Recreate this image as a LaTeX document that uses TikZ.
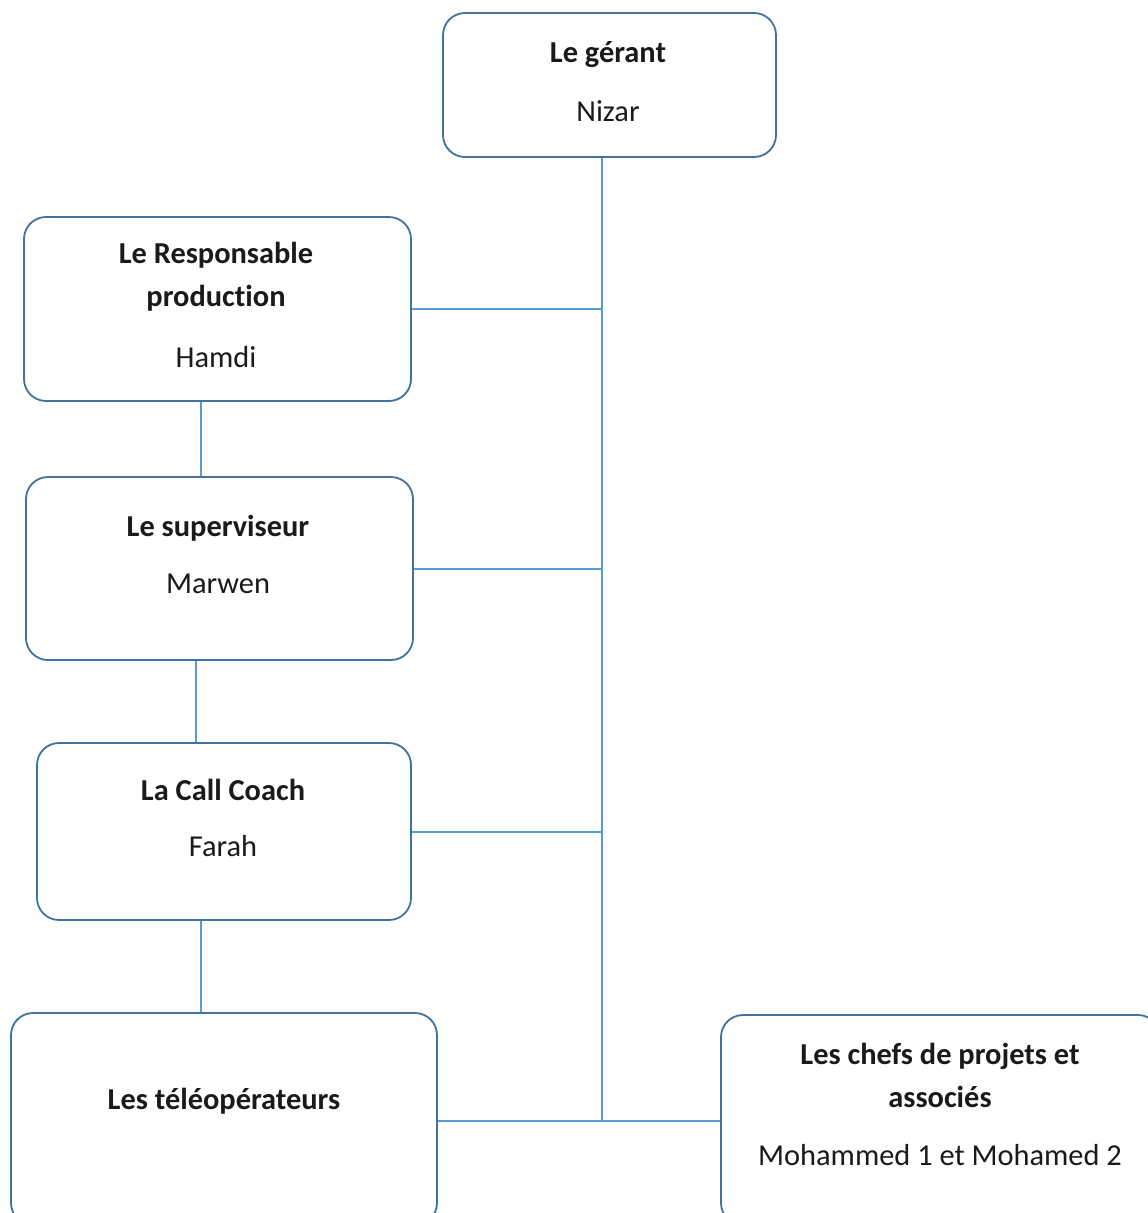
\documentclass[tikz,border=0pt]{standalone}
\usepackage{fontspec}
\setmainfont[Ligatures=NoCommon]{Carlito}
\definecolor{bord}{RGB}{65,113,156}
\definecolor{bleulien}{RGB}{91,155,213}
\definecolor{encre}{RGB}{26,26,26}
\tikzset{
  boite/.style={draw=bord, line width=1.8pt, rounded corners=22pt, fill=white, inner sep=0pt},
  titre/.style={anchor=base, inner sep=0pt, text=encre, font=\fontsize{30.4}{36}\selectfont\bfseries},
  nom/.style={anchor=base, inner sep=0pt, text=encre, font=\fontsize{30.4}{36}\selectfont},
  trait/.style={draw=bleulien, line width=2pt}
}
\begin{document}
\begin{tikzpicture}[x=1pt,y=-1pt]
  % page area, in pixels of the reference
  \useasboundingbox (0,0) rectangle (1148,1213);
  \clip (0,0) rectangle (1148,1213);

  % boxes
  \node[boite, minimum width=333pt, minimum height=144pt] (gerant) at (609.5,85) {};
  \node[boite, minimum width=387pt, minimum height=184pt] (resp) at (217.5,309) {};
  \node[boite, minimum width=387pt, minimum height=183pt] (superv) at (219.5,568.5) {};
  \node[boite, minimum width=374pt, minimum height=177pt] (coach) at (224,831.5) {};
  \node[boite, minimum width=426pt, minimum height=212pt] (teleop) at (224,1119) {};
  \node[boite, minimum width=439pt, minimum height=210pt] (chefs) at (940.5,1120) {};

  % texts
  \node[titre] (gerant-t) at (608,62) {Le gérant};
  \node[nom] (gerant-n) at (608,121) {Nizar};
  \node[titre] (resp-t1) at (216,263) {Le Responsable};
  \node[titre] (resp-t2) at (216,306) {production};
  \node[nom] (resp-n) at (216,367) {Hamdi};
  \node[titre] (superv-t) at (218,536) {Le superviseur};
  \node[nom] (superv-n) at (218,593) {Marwen};
  \node[titre] (coach-t) at (223,800) {La Call Coach};
  \node[nom] (coach-n) at (223,856) {Farah};
  \node[titre] (teleop-t) at (224,1109) {Les téléopérateurs};
  \node[titre] (chefs-t1) at (940,1064) {Les chefs de projets et};
  \node[titre] (chefs-t2) at (940,1107) {associés};
  \node[nom] (chefs-n) at (940,1165) {Mohammed 1 et Mohamed 2};

  % connectors
  \coordinate (bas) at (602,1121);
  \coordinate (v1) at (201,0);
  \coordinate (v2) at (196,0);
  \draw[trait] (gerant.south -| bas) -- (bas);
  \draw[trait] (resp.east) -- (resp.east -| bas);
  \draw[trait] (superv.east) -- (superv.east -| bas);
  \draw[trait] (coach.east) -- (coach.east -| bas);
  \draw[trait] (teleop.east |- bas) -- (chefs.west |- bas);
  \draw[trait] (resp.south -| v1) -- (superv.north -| v1);
  \draw[trait] (superv.south -| v2) -- (coach.north -| v2);
  \draw[trait] (coach.south -| v1) -- (teleop.north -| v1);
\end{tikzpicture}
\end{document}
